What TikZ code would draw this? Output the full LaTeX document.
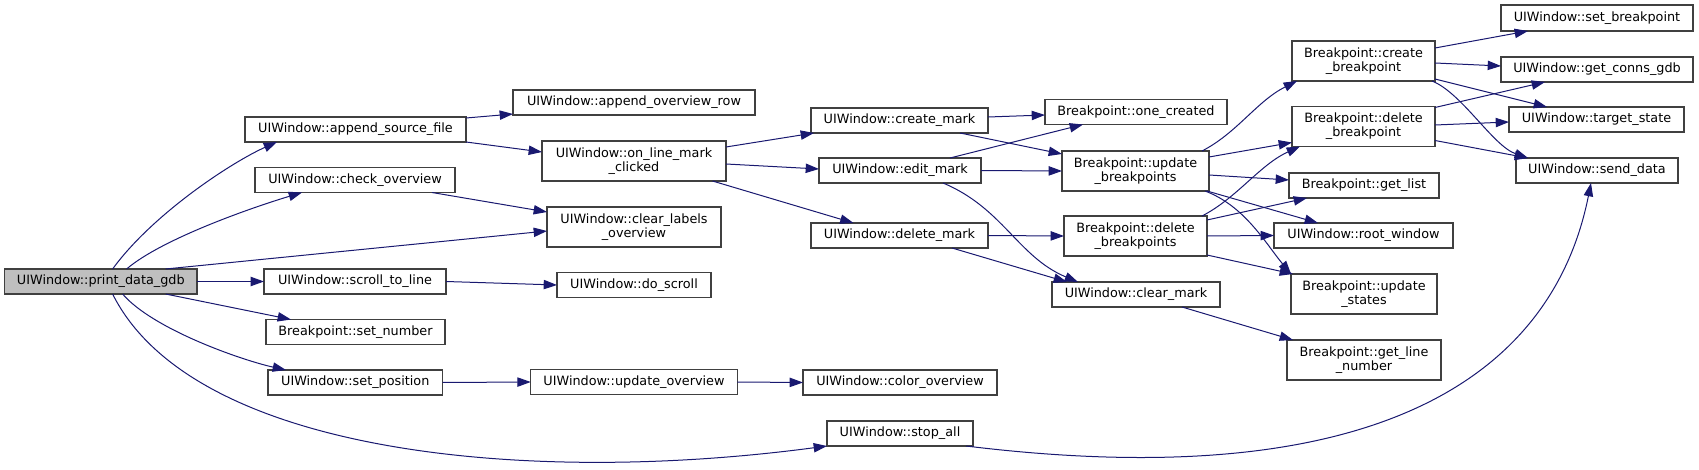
\documentclass[tikz,border=0pt]{standalone}
\usepackage{fontspec}
\setmainfont{DejaVu Sans}
\usetikzlibrary{arrows.meta,calc}
\definecolor{edgec}{HTML}{191970}
\definecolor{rootfill}{HTML}{BFBFBF}
\definecolor{boxline}{HTML}{404040}
\tikzset{
  box/.style={draw=boxline, line width=1pt, fill=white, inner sep=0pt, outer sep=0pt, align=center, font=\fontsize{9.6}{10.5}\selectfont},
  root/.style={box, fill=rootfill},
  sz/.style 2 args={minimum width=#1*0.75pt, minimum height=#2*0.75pt},
  edge/.style={draw=edgec, line width=0.75pt, -{Triangle[length=10pt,width=7pt]}},
}
\begin{document}
\begin{tikzpicture}[x=0.75pt, y=-0.75pt]
\useasboundingbox (0,0) rectangle (1699,470);
% nodes
\node[root, sz={192.4}{25}] (print) at (100.8,281.5) {UIWindow::print\_data\_gdb};
\node[box, sz={221}{25}] (asf) at (355.5,129.5) {UIWindow::append\_source\_file};
\node[box, sz={200}{25}] (chk) at (355,180) {UIWindow::check\_overview};
\node[box, sz={182}{25}] (stl) at (355,281.5) {UIWindow::scroll\_to\_line};
\node[box, sz={179}{25}] (setnum) at (355.5,332) {Breakpoint::set\_number};
\node[box, sz={174.5}{25}] (setpos) at (355.25,382.5) {UIWindow::set\_position};
\node[box, sz={242}{25}] (aor) at (634,102.5) {UIWindow::append\_overview\_row};
\node[box, sz={184}{40}] (olmc) at (634,161) {UIWindow::on\_line\_mark\\\_clicked};
\node[box, sz={174}{40}] (clo) at (634,227) {UIWindow::clear\_labels\\\_overview};
\node[box, sz={154}{25}] (dosc) at (634,285) {UIWindow::do\_scroll};
\node[box, sz={206.5}{25}] (updov) at (634,382) {UIWindow::update\_overview};
\node[box, sz={177}{25}] (cm) at (899.5,120.5) {UIWindow::create\_mark};
\node[box, sz={162}{25}] (em) at (900,170.5) {UIWindow::edit\_mark};
\node[box, sz={177}{25}] (dm) at (899.5,235.5) {UIWindow::delete\_mark};
\node[box, sz={194}{25}] (colov) at (900,382.5) {UIWindow::color\_overview};
\node[box, sz={146}{25}] (stop) at (900,433.5) {UIWindow::stop\_all};
\node[box, sz={182}{25}] (oc) at (1136,112) {Breakpoint::one\_created};
\node[box, sz={147}{40}] (ub) at (1135.5,171) {Breakpoint::update\\\_breakpoints};
\node[box, sz={143}{40}] (dbs) at (1135.5,236) {Breakpoint::delete\\\_breakpoints};
\node[box, sz={168}{25}] (clm) at (1136,294.5) {UIWindow::clear\_mark};
\node[box, sz={143}{40}] (cb) at (1363.5,61) {Breakpoint::create\\\_breakpoint};
\node[box, sz={143}{40}] (db) at (1363.5,126.5) {Breakpoint::delete\\\_breakpoint};
\node[box, sz={150}{25}] (gl) at (1364,185.5) {Breakpoint::get\_list};
\node[box, sz={179}{25}] (rw) at (1363.5,235.5) {UIWindow::root\_window};
\node[box, sz={146}{40}] (us) at (1364,294) {Breakpoint::update\\\_states};
\node[box, sz={154}{40}] (gln) at (1364,360) {Breakpoint::get\_line\\\_number};
\node[box, sz={192}{26}] (sbp) at (1597,18) {UIWindow::set\_breakpoint};
\node[box, sz={192}{25}] (gcg) at (1597,69.5) {UIWindow::get\_conns\_gdb};
\node[box, sz={175}{25}] (ts) at (1596.5,119.5) {UIWindow::target\_state};
\node[box, sz={162}{25}] (sd) at (1597,170.5) {UIWindow::send\_data};
% edges
\draw[edge] ($(print.north west)+(108,0)$) .. controls +(40,-55) and +(-45,20) .. ($(asf.south west)+(32,0)$);
\draw[edge] ($(print.north west)+(122,0)$) .. controls +(35,-30) and +(-50,15) .. ($(chk.south west)+(47,0)$);
\draw[edge] ($(print.north west)+(161,0)$) -- ($(clo.west)+(0,4)$);
\draw[edge] (print.east) -- (stl.west);
\draw[edge] ($(print.south west)+(161,0)$) -- ($(setnum.north west)+(25,0)$);
\draw[edge] ($(print.south west)+(118,0)$) .. controls +(30,35) and +(-45,-10) .. ($(setpos.north west)+(18,0)$);
\draw[edge] ($(print.south west)+(108,0)$) .. controls +(80,160) and +(-300,40) .. (stop.south west);
\draw[edge] ($(asf.north east)+(0,1)$) -- ($(aor.south west)+(0,-1)$);
\draw[edge] (asf.south east) -- ($(olmc.north west)+(0,11)$);
\draw[edge] ($(chk.south east)+(-23,0)$) -- ($(clo.north west)+(0,5)$);
\draw[edge] (stl.east) -- (dosc.west);
\draw[edge] (setpos.east) -- (updov.west);
\draw[edge] (updov.east) -- (colov.west);
\draw[edge] ($(olmc.north east)+(0,6)$) -- ($(cm.south west)+(3,0)$);
\draw[edge] ($(olmc.east)+(0,3)$) -- ($(em.west)+(0,-1.5)$);
\draw[edge] ($(olmc.south east)+(-13.5,0)$) -- ($(dm.north west)+(42.5,0)$);
\draw[edge] ($(cm.east)+(0,-3.5)$) -- ($(oc.west)+(0,3)$);
\draw[edge] ($(cm.south east)+(-28,0)$) -- ($(ub.north west)+(0,3)$);
\draw[edge] ($(em.north east)+(-31,0)$) -- ($(oc.south west)+(38,0)$);
\draw[edge] (em.east) -- (ub.west);
\draw[edge] ($(em.south east)+(-38,0)$) .. controls +(60,25) and +(-60,-25) .. ($(clm.north west)+(26,0)$);
\draw[edge] (dm.east) -- (dbs.west);
\draw[edge] ($(dm.south east)+(-36,0)$) -- ($(clm.north west)+(15,0)$);
\draw[edge] ($(ub.north east)+(-7,0)$) .. controls +(35,-18) and +(-40,20) .. ($(cb.south west)+(5,0)$);
\draw[edge] ($(ub.north east)+(0,6)$) -- ($(db.south west)+(0,-4)$);
\draw[edge] ($(ub.east)+(0,4)$) -- ($(gl.west)+(0,-5.5)$);
\draw[edge] ($(ub.south east)+(-2,0)$) -- ($(rw.north west)+(44,0)$);
\draw[edge] ($(ub.south east)+(-4,0)$) .. controls +(40,15) and +(-25,-30) .. (us.north west);
\draw[edge] ($(dbs.north east)+(-5,0)$) .. controls +(35,-18) and +(-40,18) .. ($(db.south west)+(8,0)$);
\draw[edge] ($(dbs.north east)+(0,4)$) -- ($(gl.south west)+(18,0)$);
\draw[edge] (dbs.east) -- (rw.west);
\draw[edge] ($(dbs.south east)+(0,-1)$) -- ($(us.north west)+(2,0)$);
\draw[edge] ($(clm.south east)+(-38,0)$) -- ($(gln.north west)+(6,0)$);
\draw[edge] ($(cb.north east)+(0,7)$) -- ($(sbp.south west)+(27,0)$);
\draw[edge] ($(cb.east)+(0,2)$) -- ($(gcg.west)+(0,-3.5)$);
\draw[edge] ($(cb.south east)+(0,-2)$) -- ($(ts.north west)+(38,0)$);
\draw[edge] ($(cb.south east)+(-3,0)$) .. controls +(30,12) and +(-35,-12) .. ($(sd.north west)+(12,0)$);
\draw[edge] ($(db.north east)+(0,1)$) -- ($(gcg.south west)+(44,0)$);
\draw[edge] ($(db.east)+(0,-1.5)$) -- ($(ts.west)+(0,2.5)$);
\draw[edge] ($(db.south east)+(0,-6)$) -- ($(sd.north west)+(12,0)$);
\draw[edge] ($(stop.south east)+(-7,0)$) .. controls +(400,49) and +(-40,200) .. ($(sd.south west)+(75,0)$);
\end{tikzpicture}
\end{document}
